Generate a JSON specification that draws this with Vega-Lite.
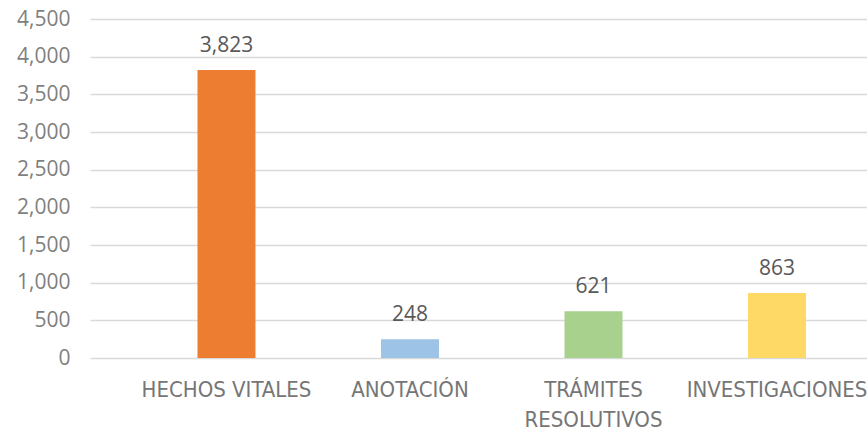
{
  "$schema": "https://vega.github.io/schema/vega-lite/v6.json",
  "autosize": "none",
  "padding": {"left": 90, "top": 19, "right": 0, "bottom": 73},
  "width": 777,
  "height": 339,
  "background": "white",
  "config": {"view": {"stroke": null}},
  "data": {
    "values": [
      {"categoria": "HECHOS VITALES", "valor": 3823},
      {"categoria": "ANOTACIÓN", "valor": 248},
      {"categoria": "TRÁMITES RESOLUTIVOS", "valor": 621},
      {"categoria": "INVESTIGACIONES", "valor": 863}
    ]
  },
  "encoding": {
    "x": {
      "field": "categoria",
      "type": "nominal",
      "sort": null,
      "scale": {"paddingInner": 0.684, "paddingOuter": 0.459, "align": 0.638},
      "axis": {
        "title": null,
        "domain": false,
        "ticks": false,
        "tickSize": 0,
        "labelAngle": 0,
        "labelPadding": 21,
        "labelBaseline": "top",
        "labelFont": "DejaVu Sans Condensed",
        "labelFontSize": 22,
        "labelColor": "#767676",
        "labelLineHeight": 30,
        "labelLimit": 0,
        "labelOverlap": false,
        "labelExpr": "datum.label == 'TRÁMITES RESOLUTIVOS' ? ['TRÁMITES', 'RESOLUTIVOS'] : datum.label"
      }
    },
    "y": {
      "field": "valor",
      "type": "quantitative",
      "scale": {"domain": [0, 4500], "nice": false},
      "axis": {
        "title": null,
        "domain": false,
        "ticks": false,
        "tickSize": 0,
        "values": [0, 500, 1000, 1500, 2000, 2500, 3000, 3500, 4000, 4500],
        "format": ",.0f",
        "labelPadding": 20,
        "labelFont": "Open Sans",
        "labelFontSize": 21,
        "labelColor": "#7f7f7f",
        "gridColor": "#d9d9d9",
        "gridWidth": 1.5
      }
    }
  },
  "layer": [
    {
      "mark": {"type": "bar"},
      "encoding": {
        "color": {
          "field": "categoria",
          "type": "nominal",
          "scale": {
            "domain": ["HECHOS VITALES", "ANOTACIÓN", "TRÁMITES RESOLUTIVOS", "INVESTIGACIONES"],
            "range": ["#ED7D31", "#9DC3E6", "#A9D18E", "#FFD966"]
          },
          "legend": null
        }
      }
    },
    {
      "mark": {
        "type": "text",
        "baseline": "alphabetic",
        "dy": -18,
        "font": "Open Sans",
        "fontSize": 21,
        "color": "#595959"
      },
      "encoding": {
        "text": {"field": "valor", "type": "quantitative", "format": ",.0f"}
      }
    }
  ]
}
